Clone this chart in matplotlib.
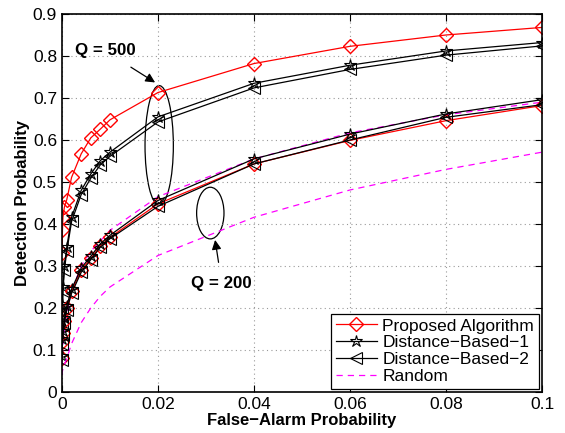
import numpy as np
import matplotlib
matplotlib.use("Agg")
import matplotlib.pyplot as plt
from matplotlib.patches import Ellipse

plt.rcParams['font.family'] = ['Liberation Sans', 'DejaVu Sans']

pfa = [0, 0.0001, 0.0002, 0.0005, 0.001, 0.002, 0.004, 0.006, 0.008, 0.01,
       0.02, 0.04, 0.06, 0.08, 0.1]

# Q = 500
prop_500 = [0.33, 0.385, 0.416, 0.44, 0.458, 0.511, 0.567, 0.605, 0.626, 0.648,
            0.713, 0.782, 0.823, 0.850, 0.868]
dist1_500 = [0.17, 0.21, 0.25, 0.30, 0.345, 0.416, 0.48, 0.519, 0.551, 0.571,
             0.655, 0.735, 0.778, 0.812, 0.832]
dist2_500 = [0.16, 0.20, 0.24, 0.29, 0.335, 0.406, 0.47, 0.509, 0.541, 0.561,
             0.643, 0.724, 0.768, 0.802, 0.824]
rand_500 = [0.06, 0.09, 0.11, 0.15, 0.19, 0.24, 0.30, 0.335, 0.36, 0.385,
            0.465, 0.555, 0.617, 0.66, 0.69]

# Q = 200
prop_200 = [0.08, 0.12, 0.14, 0.17, 0.20, 0.24, 0.29, 0.318, 0.348, 0.368,
            0.448, 0.543, 0.599, 0.646, 0.682]
dist1_200 = [0.085, 0.125, 0.145, 0.175, 0.205, 0.245, 0.295, 0.323, 0.353, 0.373,
             0.456, 0.555, 0.614, 0.662, 0.696]
dist2_200 = [0.075, 0.115, 0.135, 0.165, 0.195, 0.235, 0.285, 0.315, 0.345, 0.365,
             0.442, 0.543, 0.600, 0.654, 0.684]
rand_200 = [0.04, 0.05, 0.055, 0.065, 0.08, 0.115, 0.165, 0.20, 0.228, 0.25,
            0.325, 0.416, 0.481, 0.53, 0.571]

fig = plt.figure(figsize=(5.65, 4.33), dpi=100)
ax = fig.add_axes([0.1097, 0.0947, 0.8496, 0.873])

ms = 9
ax.plot(pfa, prop_500, color='red', marker='D', mfc='none', ms=7, lw=0.9,
        label='Proposed Algorithm')
ax.plot(pfa, dist1_500, color='black', marker='*', mfc='none', ms=ms, lw=0.9, mew=0.8,
        label='Distance\u2212Based\u22121')
ax.plot(pfa, dist2_500, color='black', marker='<', mfc='none', ms=ms, lw=0.9, mew=0.8,
        label='Distance\u2212Based\u22122')
ax.plot(pfa, rand_500, color='magenta', ls=(0, (5, 4)), lw=0.9, label='Random')

ax.plot(pfa, prop_200, color='red', marker='D', mfc='none', ms=7, lw=0.9)
ax.plot(pfa, dist1_200, color='black', marker='*', mfc='none', ms=ms, lw=0.9, mew=0.8)
ax.plot(pfa, dist2_200, color='black', marker='<', mfc='none', ms=ms, lw=0.9, mew=0.8)
ax.plot(pfa, rand_200, color='magenta', ls=(0, (5, 4)), lw=0.9)

ax.add_patch(Ellipse((0.02025, 0.587), 0.0059, 0.285, fill=False, color='black', lw=0.9))
ax.add_patch(Ellipse((0.0309, 0.426), 0.0057, 0.123, fill=False, color='black', lw=0.9))

ax.annotate('Q = 500', xy=(0.0194, 0.737), xytext=(0.009, 0.812),
            ha='center', va='center', fontsize=12.2, fontweight='bold',
            arrowprops=dict(arrowstyle='-|>', color='black', lw=0.9,
                            shrinkA=8, shrinkB=0, mutation_scale=14))
ax.annotate('Q = 200', xy=(0.0319, 0.362), xytext=(0.0333, 0.258),
            ha='center', va='center', fontsize=12.2, fontweight='bold',
            arrowprops=dict(arrowstyle='-|>', color='black', lw=0.9,
                            shrinkA=8, shrinkB=0, mutation_scale=14))

ax.set_xlim(0, 0.1)
ax.set_ylim(0, 0.9)
ax.set_xticks(np.arange(0, 0.101, 0.02))
ax.set_xticklabels(['0', '0.02', '0.04', '0.06', '0.08', '0.1'])
ax.set_yticks(np.arange(0, 0.91, 0.1))
ax.set_yticklabels(['0', '0.1', '0.2', '0.3', '0.4', '0.5', '0.6', '0.7', '0.8', '0.9'])
ax.tick_params(direction='in', top=True, right=True, labelsize=12.5, length=5, width=0.8)
ax.grid(True, color='#999999', ls=(0, (1, 3)), lw=0.8)
for s in ax.spines.values():
    s.set_linewidth(1.2)

ax.set_xlabel('False\u2212Alarm Probability', fontsize=12, fontweight='bold', labelpad=1)
ax.set_ylabel('Detection Probability', fontsize=12, fontweight='bold', labelpad=2)

leg = ax.legend(loc='lower right', fontsize=12.5, numpoints=1, fancybox=False,
                edgecolor='black', framealpha=1, borderaxespad=0.2,
                handlelength=2.4, handletextpad=0.3, labelspacing=0.1,
                borderpad=0.25)
leg.get_frame().set_linewidth(0.9)

fig.savefig('out.png', dpi=100)
